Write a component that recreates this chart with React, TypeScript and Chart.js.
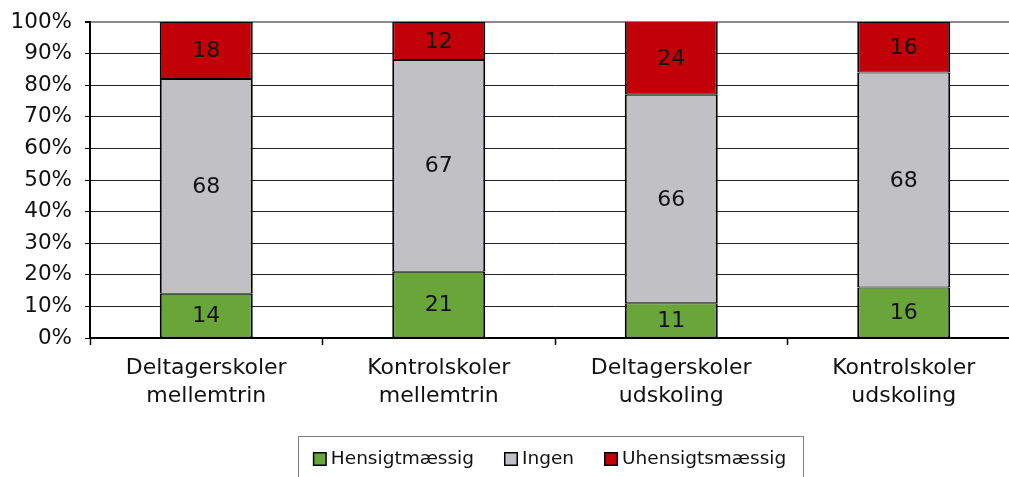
import { useEffect, useRef } from "react";
import { Chart, registerables } from "chart.js";

Chart.register(...registerables);

const categories: string[][] = [
  ["Deltagerskoler", "mellemtrin"],
  ["Kontrolskoler", "mellemtrin"],
  ["Deltagerskoler", "udskoling"],
  ["Kontrolskoler", "udskoling"],
];
const seriesNames = ["Hensigtmæssig", "Ingen", "Uhensigtsmæssig"];
const hensigtmaessig = [14, 21, 11, 16];
const ingen = [68, 67, 66, 68];
const uhensigtsmaessig = [18, 12, 24, 16];
const seriesColors = ["#6AA539", "#C1C1C5", "#C20008"];
const yTickStep = 10;
const yMax = 100;

const FONT = "'DejaVu Sans', Verdana, sans-serif";

const dataLabelPlugin = {
  id: "dataLabels",
  afterDatasetsDraw(chart: any) {
    const ctx = chart.ctx;
    const area = chart.chartArea;
    ctx.save();
    ctx.font = `22px ${FONT}`;
    ctx.fillStyle = "#111";
    ctx.textAlign = "center";
    ctx.textBaseline = "middle";
    chart.data.datasets.forEach((ds: any, i: number) => {
      const meta = chart.getDatasetMeta(i);
      meta.data.forEach((el: any, j: number) => {
        const top = Math.max(Math.min(el.y, el.base), area.top);
        const bottom = Math.min(Math.max(el.y, el.base), area.bottom);
        ctx.fillText(String(ds.data[j]), el.x, (top + bottom) / 2 + 1);
      });
    });
    ctx.restore();
  },
};

const legendBoxPlugin = {
  id: "legendBox",
  afterDraw(chart: any) {
    const ctx = chart.ctx;
    ctx.save();
    ctx.font = `18.5px ${FONT}`;
    const box = 14;
    const gapText = 4;
    const gapItem = 30;
    const items = chart.data.datasets.map((d: any) => ({
      label: d.label,
      color: d.backgroundColor,
      w: ctx.measureText(d.label).width,
    }));
    const content =
      items.reduce((s: number, it: any) => s + box + gapText + it.w, 0) + gapItem * (items.length - 1);
    const boxLeft = 298;
    const boxRight = 803;
    const boxTop = 436.5;
    ctx.strokeStyle = "#808080";
    ctx.lineWidth = 1;
    ctx.strokeRect(boxLeft + 0.5, boxTop, boxRight - boxLeft, 60);
    let x = (boxLeft + boxRight) / 2 - content / 2 - 1;
    const cy = 459;
    items.forEach((it: any) => {
      ctx.fillStyle = "#000";
      ctx.fillRect(x, cy - box / 2, box, box);
      ctx.fillStyle = it.color;
      ctx.fillRect(x + 1.5, cy - box / 2 + 1.5, box - 3, box - 3);
      ctx.fillStyle = "#111";
      ctx.textBaseline = "middle";
      ctx.textAlign = "left";
      ctx.fillText(it.label, x + box + gapText, cy);
      x += box + gapText + it.w + gapItem;
    });
    ctx.restore();
  },
};

export default function App() {
  const ref = useRef<HTMLCanvasElement>(null);
  useEffect(() => {
    if (!ref.current) return;
    const values = [hensigtmaessig, ingen, uhensigtsmaessig];
    const chart = new Chart(ref.current, {
      type: "bar",
      data: {
        labels: categories,
        datasets: seriesNames.map((name, i) => ({
          label: name,
          data: values[i],
          backgroundColor: seriesColors[i],
          borderColor: "#000",
          borderWidth: { left: 2, right: 2, top: 1, bottom: 1 },
          borderSkipped: false,
          inflateAmount: 0,
          barPercentage: 0.4,
          categoryPercentage: 1,
        })),
      },
      options: {
        animation: false,
        responsive: false,
        events: [],
        layout: { padding: { top: 22, left: 0, right: 0, bottom: 0 } },
        plugins: { legend: { display: false }, tooltip: { enabled: false } },
        scales: {
          x: {
            stacked: true,
            grid: {
              display: true,
              offset: true,
              drawOnChartArea: false,
              tickLength: 7,
              tickColor: "#000",
              tickWidth: 1.5,
            },
            border: { display: true, color: "#000", width: 2 },
            ticks: {
              color: "#111",
              font: { family: FONT, size: 22, lineHeight: 1.24 },
              padding: 10,
              maxRotation: 0,
              autoSkip: false,
            },
            afterFit: (s: any) => {
              s.height = 139;
            },
          },
          y: {
            stacked: true,
            min: 0,
            max: yMax,
            grid: {
              color: (c: any) => (c.tick && c.tick.value === yMax ? "#8a8a8a" : "#222"),
              lineWidth: (c: any) => (c.tick && c.tick.value === yMax ? 2 : 1),
              tickLength: 5,
              tickColor: "#000",
            },
            border: { display: true, color: "#000", width: 2 },
            ticks: {
              stepSize: yTickStep,
              color: "#111",
              font: { family: FONT, size: 21.5 },
              padding: 13,
              callback: (v: any) => `${v}%`,
            },
            afterFit: (s: any) => {
              s.width = 90;
              s.paddingTop = 4;
              s.paddingBottom = 4;
            },
          },
        },
      },
      plugins: [dataLabelPlugin, legendBoxPlugin],
    });
    return () => chart.destroy();
  }, []);
  return (
    <div
      style={{
        position: "fixed",
        left: 0,
        top: 0,
        width: 1009,
        height: 477,
        overflow: "hidden",
        background: "#fff",
      }}
    >
      <canvas ref={ref} width={1020} height={477} style={{ display: "block" }} />
    </div>
  );
}
